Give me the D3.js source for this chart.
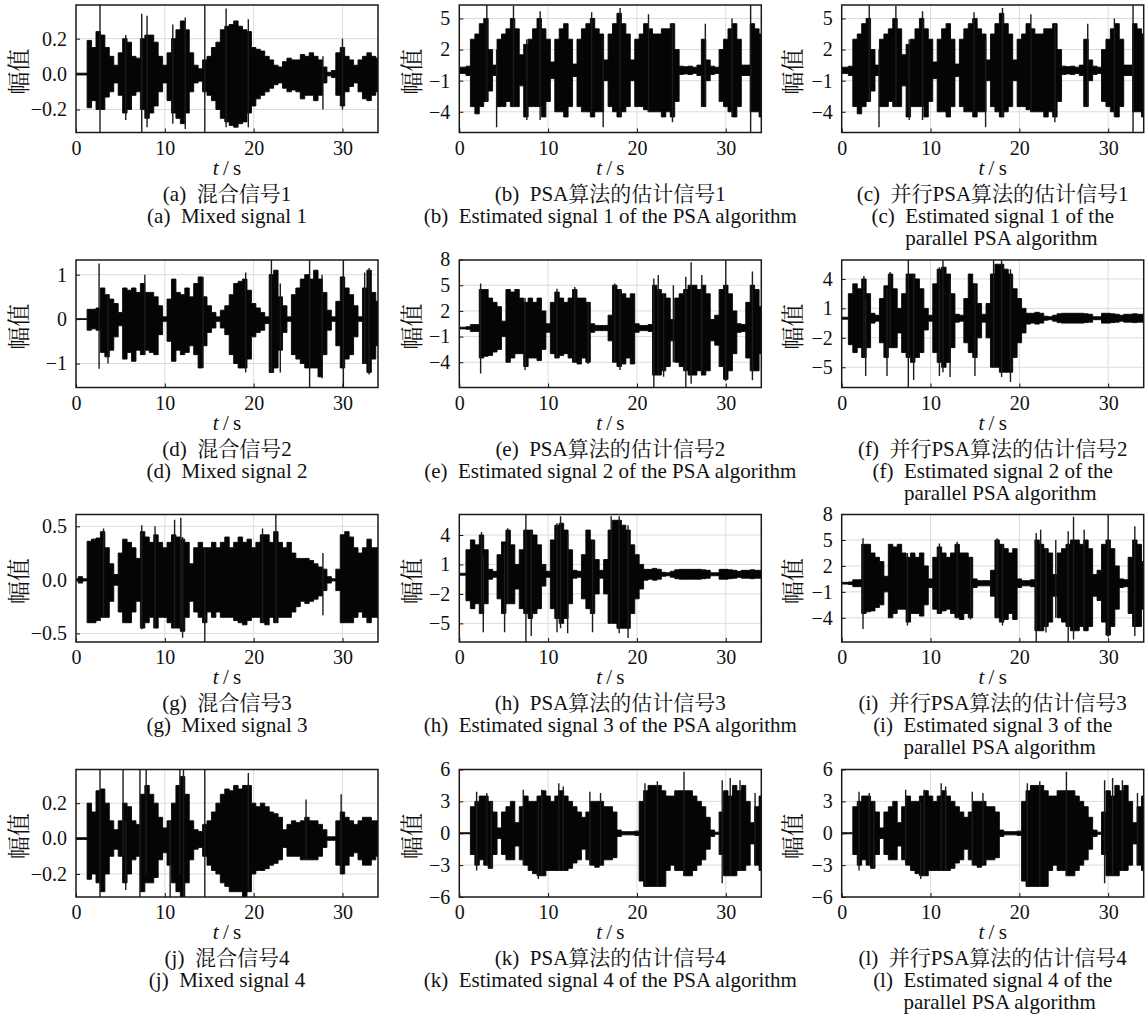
<!DOCTYPE html>
<html>
<head>
<meta charset="utf-8">
<script src="https://cdn.jsdelivr.net/npm/d3@7"></script>
<style>
  body { margin: 0; background: #fff; }
  svg text {
    font-family: "Liberation Serif", "Times New Roman", "Noto Serif CJK SC", "Noto Sans CJK SC", serif;
    fill: #111;
  }
</style>
</head>
<body>
<svg id="fig" width="1147" height="1016"></svg>
<script>
// Envelope sample instants (s): every 0.5 s over the 34 s recording
const timeGrid = d3.range(0, 34.001, 0.5);
const xTicks = [0, 10, 20, 30];

// ---- Mixed signal 1: upper / lower envelope, isolated peaks [t, low, high]
const mix1Hi = [0.005,0.005,0.005,0.19,0.15,0.24,0.22,0.15,0.10,0.05,0.12,0.20,0.18,0.10,0.09,0.20,0.22,0.22,0.18,0.10,0.05,0.12,0.20,0.25,0.30,0.25,0.12,0.05,0.03,0.08,0.10,0.15,0.18,0.25,0.27,0.28,0.30,0.27,0.25,0.24,0.15,0.14,0.13,0.10,0.08,0.05,0.04,0.07,0.09,0.08,0.08,0.11,0.10,0.12,0.10,0.08,0.04,0.01,0.02,0.12,0.15,0.10,0.08,0.05,0.08,0.10,0.12,0.10,0.09];
const mix1Lo = [-0.005,-0.005,-0.005,-0.19,-0.15,-0.20,-0.20,-0.13,-0.10,-0.05,-0.12,-0.22,-0.20,-0.12,-0.10,-0.20,-0.25,-0.22,-0.18,-0.10,-0.05,-0.15,-0.22,-0.25,-0.28,-0.22,-0.10,-0.05,-0.04,-0.10,-0.12,-0.15,-0.20,-0.25,-0.27,-0.29,-0.30,-0.28,-0.27,-0.22,-0.18,-0.14,-0.12,-0.10,-0.08,-0.06,-0.05,-0.08,-0.10,-0.09,-0.10,-0.14,-0.12,-0.12,-0.15,-0.12,-0.05,-0.01,-0.02,-0.12,-0.18,-0.10,-0.07,-0.05,-0.10,-0.14,-0.15,-0.12,-0.10];
const mix1Peaks = [[2.7,-0.4,0.4],[14.5,-0.4,0.4],[7.4,-0.33,0.34],[8.0,-0.3,0.33],[10.9,-0.28,0.28],[12.3,-0.31,0.32],[16.9,-0.3,0.37],[19.4,-0.3,0.31],[5.6,-0.26,0.22],[27.8,-0.2,0.1],[30.0,-0.2,0.2]];

// ---- PSA estimate 1 (also the parallel PSA estimate 1)
const est1Hi = [0.3,0.3,0.4,3.0,3.5,4.5,5.0,2.0,0.5,3.0,3.5,4.0,5.0,4.0,1.5,2.5,3.0,4.0,5.0,4.0,3.0,0.8,3.0,4.0,4.5,3.0,0.6,3.0,4.0,4.5,5.0,4.0,3.5,1.0,3.5,4.5,5.5,4.5,3.5,1.0,3.0,3.5,4.5,4.0,3.5,3.5,4.0,4.0,4.5,2.0,0.4,0.35,0.4,0.3,0.5,3.0,1.0,0.4,0.3,2.0,3.0,4.0,4.5,3.0,0.5,0.5,4.5,4.0,3.5];
const est1Lo = [-0.3,-0.3,-0.5,-3.5,-4.2,-3.5,-3.0,-2.0,-0.5,-3.5,-3.5,-3.0,-3.5,-3.5,-1.5,-4.5,-3.5,-3.5,-3.5,-4.5,-3.0,-0.8,-4.0,-4.0,-4.5,-3.5,-0.6,-3.5,-4.0,-4.0,-4.5,-4.0,-4.0,-1.0,-3.5,-4.0,-4.5,-4.0,-3.5,-1.0,-3.5,-3.5,-3.8,-4.0,-4.0,-4.0,-4.5,-4.0,-4.5,-3.0,-0.4,-0.35,-0.4,-0.3,-0.5,-3.5,-1.0,-0.4,-0.3,-3.0,-3.5,-4.0,-4.5,-3.5,-0.5,-0.5,-4.0,-4.0,-4.5];
const est1Peaks = [[3.1,-3,6.3],[4.2,-5.5,2],[6.1,-3.5,6.2],[9.1,-4.8,5.7],[7.6,-4.8,3],[14.9,-4,5.6],[16.2,-5.5,3],[18.1,-4.5,6],[21.3,-4,5.4],[24.0,-5,4.5],[27.7,-3.5,4.5],[30.7,-4.5,5],[32.8,-6.5,6.5]];

// ---- Mixed signal 2
const mix2Hi = [0.01,0.01,0.01,0.22,0.22,0.25,0.7,0.55,0.45,0.35,0.15,0.7,0.65,0.7,0.6,0.8,0.6,0.6,0.5,0.3,0.05,0.45,0.9,0.6,0.55,0.7,0.5,0.8,0.95,0.5,0.3,0.15,0.05,0.2,0.3,0.55,0.8,0.85,0.9,0.65,0.35,0.25,0.15,0.05,1.0,1.1,0.5,0.3,0.05,0.55,0.7,0.9,1.0,0.9,1.1,0.9,0.6,0.2,0.05,0.4,0.95,0.7,0.55,0.3,0.05,0.7,1.1,0.6,0.4];
const mix2Lo = [-0.01,-0.01,-0.01,-0.25,-0.22,-0.25,-0.75,-0.85,-0.7,-0.4,-0.15,-0.9,-0.75,-0.95,-0.7,-0.8,-0.7,-0.75,-0.8,-0.35,-0.05,-0.5,-0.95,-0.7,-0.8,-0.75,-0.6,-0.8,-1.1,-0.6,-0.3,-0.2,-0.05,-0.2,-0.35,-0.8,-1.0,-1.1,-1.1,-0.9,-0.4,-0.3,-0.25,-0.1,-1.2,-1.1,-0.7,-0.3,-0.05,-0.8,-0.9,-1.0,-1.1,-1.1,-1.1,-1.3,-0.8,-0.25,-0.05,-0.6,-1.1,-0.9,-0.8,-0.4,-0.05,-1.0,-1.2,-0.9,-0.6];
const mix2Peaks = [[2.6,-1.12,1.25],[3.6,-1.0,0.5],[7.75,-0.8,1.0],[14.3,-1.1,0.95],[19.1,-1.2,1.05],[22.0,-1.2,1.4],[23.0,-1.2,0.8],[26.3,-1.6,1.4],[27.7,-1.33,1.0],[30.1,-1.6,1.4],[33.0,-1.25,1.15],[32.5,-1.0,1.05]];

// ---- PSA estimate 2 (also the parallel PSA estimate 3)
const est2Hi = [0.1,0.1,0.15,0.4,0.4,4.5,4.5,3.5,3.0,2.5,0.8,4.5,4.2,4.5,3.5,3.0,3.5,3.0,3.5,2.0,0.5,3.0,4.2,3.5,3.0,3.5,4.5,3.5,3.5,3.0,0.5,0.3,0.3,0.3,1.5,5.0,4.5,4.0,3.5,4.0,0.5,0.3,0.3,0.4,5.0,4.5,4.0,3.5,1.0,3.5,4.0,4.5,5.0,5.0,4.5,5.0,4.0,1.0,1.5,4.5,5.0,4.0,2.0,0.5,0.4,3.0,5.0,4.5,2.5];
const est2Lo = [-0.1,-0.1,-0.15,-0.4,-0.4,-3.5,-3.3,-3.2,-2.8,-2.5,-1.0,-4.0,-3.5,-3.0,-3.0,-4.5,-3.5,-3.5,-3.8,-2.5,-0.5,-3.0,-3.5,-3.2,-3.0,-3.5,-4.0,-4.2,-3.5,-4.0,-0.5,-0.3,-0.3,-0.3,-1.5,-4.0,-4.5,-4.2,-3.5,-4.2,-0.5,-0.3,-0.3,-0.4,-5.5,-5.5,-5.0,-4.5,-1.5,-4.0,-4.5,-5.0,-5.5,-5.5,-5.0,-5.5,-5.0,-1.5,-2.0,-4.5,-6.0,-5.0,-3.0,-0.5,-0.4,-3.5,-5.0,-5.0,-3.0];
const est2Peaks = [[2.4,-5.3,5.2],[7.4,-4.9,3.5],[11.0,-3.5,4.6],[13.0,-4,4.8],[14.5,-4.2,3],[17.5,-4,5.2],[18.1,-4.9,4.5],[21.9,-7.5,5.8],[22.4,-5.5,6.2],[23.0,-5.7,4],[24.1,-4,5],[25.5,-7.5,6],[26.1,-6.5,7.7],[27.3,-5,6.2],[30.0,-6.2,8.5],[33.0,-6.1,6.6]];

// ---- Parallel PSA estimate 2 (also the PSA estimate 3)
const est3Hi = [0.1,0.1,2.5,3.5,3.0,4.0,2.5,0.5,0.3,2.0,3.3,4.5,3.0,1.0,2.5,4.5,4.5,4.0,3.0,1.0,0.3,3.5,5.0,5.2,4.5,2.5,0.4,0.3,2.0,4.5,3.5,1.5,0.4,1.5,4.5,5.5,5.5,5.0,4.5,3.0,2.0,1.0,0.5,0.5,0.6,0.5,0.2,0.15,0.3,0.45,0.5,0.5,0.5,0.5,0.5,0.45,0.4,0.15,0.15,0.5,0.5,0.45,0.4,0.3,0.4,0.4,0.45,0.4,0.4];
const est3Lo = [-0.1,-0.1,-2.7,-3.5,-3.0,-4.0,-3.0,-0.5,-0.3,-2.5,-4.0,-3.0,-3.0,-1.5,-3.5,-4.0,-4.5,-4.0,-3.5,-1.2,-0.3,-3.5,-4.5,-5.0,-4.5,-3.0,-0.4,-0.3,-2.5,-3.5,-4.0,-2.0,-0.4,-2.0,-5.0,-5.0,-5.5,-5.5,-5.5,-4.0,-2.5,-1.5,-0.6,-0.5,-0.6,-0.5,-0.2,-0.15,-0.3,-0.45,-0.5,-0.5,-0.5,-0.5,-0.5,-0.45,-0.4,-0.15,-0.15,-0.5,-0.5,-0.45,-0.4,-0.3,-0.4,-0.4,-0.45,-0.4,-0.4];
const est3Peaks = [[2.5,-4,4.3],[2.7,-5.9,2],[5.1,-5.9,3],[5.45,-3,4.7],[7.5,-7.5,6.5],[8.1,-6.3,4.5],[11.0,-5.9,5.2],[11.4,-5.5,5.9],[12.2,-6,4],[15.0,-5.9,3.5],[17.1,-5,5.9],[18.0,-6,5.9],[19.0,-6.5,5]];

// ---- Mixed signal 3
const mix3Hi = [0.01,0.03,0.01,0.36,0.38,0.39,0.45,0.3,0.15,0.05,0.25,0.38,0.35,0.3,0.2,0.45,0.4,0.35,0.42,0.35,0.3,0.35,0.42,0.4,0.38,0.35,0.15,0.3,0.35,0.3,0.3,0.35,0.3,0.35,0.4,0.3,0.35,0.4,0.35,0.38,0.3,0.35,0.42,0.42,0.35,0.45,0.35,0.3,0.35,0.25,0.2,0.2,0.2,0.18,0.15,0.12,0.1,0.03,0.01,0.1,0.42,0.45,0.4,0.3,0.25,0.3,0.38,0.3,0.3];
const mix3Lo = [-0.01,-0.03,-0.01,-0.4,-0.4,-0.38,-0.35,-0.35,-0.2,-0.05,-0.3,-0.4,-0.4,-0.3,-0.2,-0.45,-0.4,-0.35,-0.45,-0.35,-0.35,-0.4,-0.45,-0.45,-0.48,-0.35,-0.2,-0.3,-0.35,-0.4,-0.3,-0.35,-0.3,-0.35,-0.35,-0.35,-0.38,-0.4,-0.42,-0.38,-0.35,-0.35,-0.4,-0.42,-0.35,-0.4,-0.35,-0.35,-0.35,-0.3,-0.25,-0.2,-0.22,-0.2,-0.18,-0.15,-0.1,-0.03,-0.01,-0.1,-0.4,-0.4,-0.4,-0.35,-0.3,-0.35,-0.4,-0.35,-0.35];
const mix3Peaks = [[3.1,-0.35,0.48],[7.4,-0.46,0.51],[8.9,-0.45,0.5],[11.1,-0.45,0.56],[11.8,-0.45,0.58],[12.0,-0.54,0.4],[14.5,-0.6,0.3],[21.0,-0.4,0.48],[22.5,-0.4,0.62],[27.8,-0.33,0.25]];

// ---- Mixed signal 4
const mix4Hi = [0.005,0.005,0.005,0.2,0.15,0.27,0.28,0.2,0.1,0.05,0.1,0.2,0.18,0.1,0.08,0.25,0.3,0.25,0.2,0.12,0.06,0.1,0.2,0.3,0.35,0.25,0.1,0.05,0.04,0.08,0.1,0.15,0.2,0.25,0.28,0.27,0.3,0.28,0.3,0.3,0.2,0.18,0.2,0.18,0.15,0.14,0.12,0.05,0.08,0.1,0.09,0.1,0.12,0.1,0.1,0.08,0.05,0.01,0.01,0.1,0.15,0.12,0.1,0.08,0.1,0.12,0.12,0.1,0.1];
const mix4Lo = [-0.005,-0.005,-0.005,-0.23,-0.2,-0.25,-0.3,-0.2,-0.1,-0.06,-0.1,-0.25,-0.2,-0.12,-0.1,-0.3,-0.25,-0.25,-0.22,-0.12,-0.08,-0.15,-0.25,-0.3,-0.33,-0.25,-0.12,-0.06,-0.05,-0.1,-0.15,-0.18,-0.2,-0.25,-0.27,-0.3,-0.3,-0.3,-0.33,-0.3,-0.2,-0.18,-0.18,-0.17,-0.15,-0.14,-0.12,-0.05,-0.1,-0.1,-0.1,-0.12,-0.12,-0.12,-0.12,-0.1,-0.05,-0.01,-0.01,-0.15,-0.2,-0.15,-0.1,-0.08,-0.12,-0.15,-0.15,-0.12,-0.1];
const mix4Peaks = [[2.7,-0.33,0.4],[5.3,-0.1,0.4],[5.6,-0.29,0.1],[7.2,-0.33,0.4],[7.9,-0.2,0.4],[10.6,-0.33,0.1],[11.7,-0.2,0.4],[12.1,-0.4,0.4],[14.5,-0.4,0.4],[19.4,-0.3,0.37],[25.9,-0.12,0.22],[29.85,-0.2,0.25]];

// ---- PSA estimate 4 (also the parallel PSA estimate 4)
const est4Hi = [0.05,0.05,0.05,2.5,3.0,3.5,3.5,3.0,2.0,0.5,2.0,2.5,3.0,1.0,2.5,3.5,3.0,3.0,3.5,4.0,3.5,3.0,3.5,4.0,3.5,3.0,2.5,2.0,1.5,2.0,3.0,3.0,3.0,2.5,2.5,2.0,0.3,0.15,0.15,0.15,0.2,3.0,4.0,4.5,4.5,4.5,4.0,3.5,3.5,4.0,4.0,4.0,4.0,3.5,3.0,2.5,1.5,0.3,0.1,2.0,4.0,3.5,4.5,4.0,4.5,3.0,1.0,2.5,3.5];
const est4Lo = [-0.05,-0.05,-0.05,-2.0,-3.0,-2.5,-3.0,-3.3,-2.0,-0.5,-2.0,-2.5,-2.5,-1.2,-2.5,-3.0,-3.5,-3.8,-4.0,-4.0,-3.5,-3.5,-3.5,-3.5,-3.5,-3.3,-2.8,-2.5,-1.5,-2.5,-3.0,-3.2,-3.0,-2.5,-2.5,-2.3,-0.3,-0.15,-0.15,-0.15,-0.2,-4.5,-5.0,-5.0,-5.0,-5.0,-5.0,-3.5,-3.0,-3.5,-3.5,-4.0,-4.0,-3.5,-3.0,-2.5,-1.5,-0.3,-0.1,-2.0,-4.0,-4.0,-4.0,-3.5,-3.5,-3.0,-1.0,-3.0,-3.5];
const est4Peaks = [[1.95,-3.5,3.9],[3.1,-3,3.8],[3.6,-3.3,3],[7.2,-3,4.1],[8.9,-4.3,3],[9.3,-4,4.1],[11.2,-3.5,4.7],[11.7,-3.5,4.4],[14.7,-3,3.9],[15.9,-3,3.8],[20.9,-5,4.7],[22.3,-5,4.9],[25.3,-4,5.8],[29.6,-4.7,5.0],[30.5,-4,5.2],[31.6,-3.5,5.0],[33.3,-3,3.8]];

// ---- Y-axis tick values per panel family
const ticksMix1 = [-0.2, 0.0, 0.2];
const ticksMix2 = [-1, 0, 1];
const ticksMix3 = [-0.5, 0.0, 0.5];
const ticksEst1 = [-4, -1, 2, 5];
const ticksEst2 = [-4, -1, 2, 5, 8];
const ticksEst3 = [-5, -2, 1, 4];
const ticksEst4 = [-6, -3, 0, 3, 6];

// ---- Captions (Chinese line, English line(s))
const captionsZh = [
  "(a)\u2002混合信号1", "(b)\u2002PSA算法的估计信号1", "(c)\u2002并行PSA算法的估计信号1",
  "(d)\u2002混合信号2", "(e)\u2002PSA算法的估计信号2", "(f)\u2002并行PSA算法的估计信号2",
  "(g)\u2002混合信号3", "(h)\u2002PSA算法的估计信号3", "(i)\u2002并行PSA算法的估计信号3",
  "(j)\u2002混合信号4", "(k)\u2002PSA算法的估计信号4", "(l)\u2002并行PSA算法的估计信号4"
];
const captionsEn = [
  ["(a)\u2002", "Mixed signal 1"], ["(b)\u2002", "Estimated signal 1 of the PSA algorithm"], ["(c)\u2002", "Estimated signal 1 of the", "parallel PSA algorithm"],
  ["(d)\u2002", "Mixed signal 2"], ["(e)\u2002", "Estimated signal 2 of the PSA algorithm"], ["(f)\u2002", "Estimated signal 2 of the", "parallel PSA algorithm"],
  ["(g)\u2002", "Mixed signal 3"], ["(h)\u2002", "Estimated signal 3 of the PSA algorithm"], ["(i)\u2002", "Estimated signal 3 of the", "parallel PSA algorithm"],
  ["(j)\u2002", "Mixed signal 4"], ["(k)\u2002", "Estimated signal 4 of the PSA algorithm"], ["(l)\u2002", "Estimated signal 4 of the", "parallel PSA algorithm"]
];

// ---- Panel table: which envelope, y-limits and ticks each subplot uses
const panels = [
  { hi: mix1Hi, lo: mix1Lo, peaks: mix1Peaks, yDom: [-0.33, 0.39],  ticks: ticksMix1, fmt: ".1f" },
  { hi: est1Hi, lo: est1Lo, peaks: est1Peaks, yDom: [-6.0, 6.3],    ticks: ticksEst1, fmt: "d" },
  { hi: est1Hi, lo: est1Lo, peaks: est1Peaks, yDom: [-6.0, 6.3],    ticks: ticksEst1, fmt: "d" },
  { hi: mix2Hi, lo: mix2Lo, peaks: mix2Peaks, yDom: [-1.54, 1.33],  ticks: ticksMix2, fmt: "d" },
  { hi: est2Hi, lo: est2Lo, peaks: est2Peaks, yDom: [-6.95, 7.95],  ticks: ticksEst2, fmt: "d" },
  { hi: est3Hi, lo: est3Lo, peaks: est3Peaks, yDom: [-7.06, 5.93],  ticks: ticksEst3, fmt: "d" },
  { hi: mix3Hi, lo: mix3Lo, peaks: mix3Peaks, yDom: [-0.58, 0.61],  ticks: ticksMix3, fmt: ".1f" },
  { hi: est3Hi, lo: est3Lo, peaks: est3Peaks, yDom: [-6.9, 6.09],   ticks: ticksEst3, fmt: "d" },
  { hi: est2Hi, lo: est2Lo, peaks: est2Peaks, yDom: [-6.8, 7.95],   ticks: ticksEst2, fmt: "d" },
  { hi: mix4Hi, lo: mix4Lo, peaks: mix4Peaks, yDom: [-0.33, 0.39],  ticks: ticksMix1, fmt: ".1f" },
  { hi: est4Hi, lo: est4Lo, peaks: est4Peaks, yDom: [-6, 6],        ticks: ticksEst4, fmt: "d" },
  { hi: est4Hi, lo: est4Lo, peaks: est4Peaks, yDom: [-6, 6],        ticks: ticksEst4, fmt: "d" }
];

// ---- Figure geometry
const colLeft = [76, 459.3, 841.7];
const rowTop = [5, 260, 514.5, 769.5];
const plotW = 302, plotH = 127.5;
const yLabelX = [19.5, 412, 793];

const svg = d3.select("#fig");
const defs = svg.append("defs");

panels.forEach((p, k) => {
  const col = k % 3, row = Math.floor(k / 3);
  const left = colLeft[col], top = rowTop[row];
  const x = d3.scaleLinear().domain([0, 34]).range([left, left + plotW]);
  const y = d3.scaleLinear().domain(p.yDom).range([top + plotH, top]);
  const g = svg.append("g");

  // grid
  g.append("g").selectAll("line").data(xTicks.slice(1)).join("line")
    .attr("x1", d => x(d)).attr("x2", d => x(d))
    .attr("y1", top).attr("y2", top + plotH)
    .attr("stroke", "#dcdcdc").attr("stroke-width", 1);
  g.append("g").selectAll("line").data(p.ticks.filter(v => y(v) > top + 1 && y(v) < top + plotH - 1)).join("line")
    .attr("x1", left).attr("x2", left + plotW)
    .attr("y1", d => y(d)).attr("y2", d => y(d))
    .attr("stroke", "#dcdcdc").attr("stroke-width", 1);

  // waveform: stepped envelope of the 0.5 s blocks plus the isolated peaks
  const clipId = "clip" + k;
  defs.append("clipPath").attr("id", clipId).append("rect")
    .attr("x", left).attr("y", top).attr("width", plotW).attr("height", plotH);
  const wave = g.append("g").attr("clip-path", `url(#${clipId})`);
  const area = d3.area()
    .curve(d3.curveStep)
    .x((d, i) => x(timeGrid[i]))
    .y0((d, i) => y(p.lo[i]))
    .y1((d, i) => y(p.hi[i]));
  wave.append("path").datum(p.hi).attr("d", area)
    .attr("fill", "#050505").attr("stroke", "#050505").attr("stroke-width", 0.9);
  wave.selectAll("line.peak").data(p.peaks).join("line").attr("class", "peak")
    .attr("x1", d => x(d[0])).attr("x2", d => x(d[0]))
    .attr("y1", d => y(d[1])).attr("y2", d => y(d[2]))
    .attr("stroke", "#1c1c1c").attr("stroke-width", 1.4);

  // axes (ticks drawn inward)
  const xAxis = d3.axisBottom(x).tickValues(xTicks).tickSize(-4).tickPadding(8).tickFormat(d3.format("d"));
  const gx = g.append("g").attr("transform", `translate(0,${top + plotH})`).call(xAxis);
  gx.select(".domain").remove();
  gx.selectAll("line").attr("stroke", "#111");
  gx.selectAll("text").attr("font-size", 20).attr("dy", "0.71em").attr("fill", "#111");

  const yAxis = d3.axisLeft(y).tickValues(p.ticks).tickSize(-4).tickPadding(9).tickFormat(d3.format(p.fmt));
  const gy = g.append("g").attr("transform", `translate(${left},0)`).call(yAxis);
  gy.select(".domain").remove();
  gy.selectAll("line").attr("stroke", "#111");
  gy.selectAll("text").attr("font-size", 20).attr("fill", "#111");

  // frame
  g.append("rect").attr("x", left).attr("y", top).attr("width", plotW).attr("height", plotH)
    .attr("fill", "none").attr("stroke", "#1a1a1a").attr("stroke-width", 1.5);

  // axis labels
  svg.append("text")
    .attr("transform", `translate(${yLabelX[col]},${top + plotH / 2 + 3}) rotate(-90)`)
    .attr("text-anchor", "middle").attr("dominant-baseline", "central")
    .attr("font-size", 23).text("幅值");

  const cx = left + plotW / 2;
  const xl = svg.append("text").attr("x", cx).attr("y", top + plotH + 42)
    .attr("text-anchor", "middle").attr("font-size", 21);
  xl.append("tspan").attr("font-style", "italic").text("t");
  xl.append("tspan").text("\u2009/\u2009s");

  // captions; the third line hangs under the text after the "(x)" label
  svg.append("text").attr("x", cx).attr("y", top + plotH + 68)
    .attr("text-anchor", "middle").attr("font-size", 21).text(captionsZh[k]);
  const en = captionsEn[k];
  const line2 = svg.append("text").attr("x", cx).attr("y", top + plotH + 90)
    .attr("text-anchor", "middle").attr("font-size", 21).text(en[0] + en[1]);
  if (en.length > 2) {
    const w = line2.node().getComputedTextLength();
    const probe = svg.append("text").attr("font-size", 21).text(en[0]);
    const prefixW = probe.node().getComputedTextLength();
    probe.remove();
    svg.append("text").attr("x", cx - w / 2 + prefixW).attr("y", top + plotH + 112)
      .attr("text-anchor", "start").attr("font-size", 21).text(en[2]);
  }
});
</script>
</body>
</html>
